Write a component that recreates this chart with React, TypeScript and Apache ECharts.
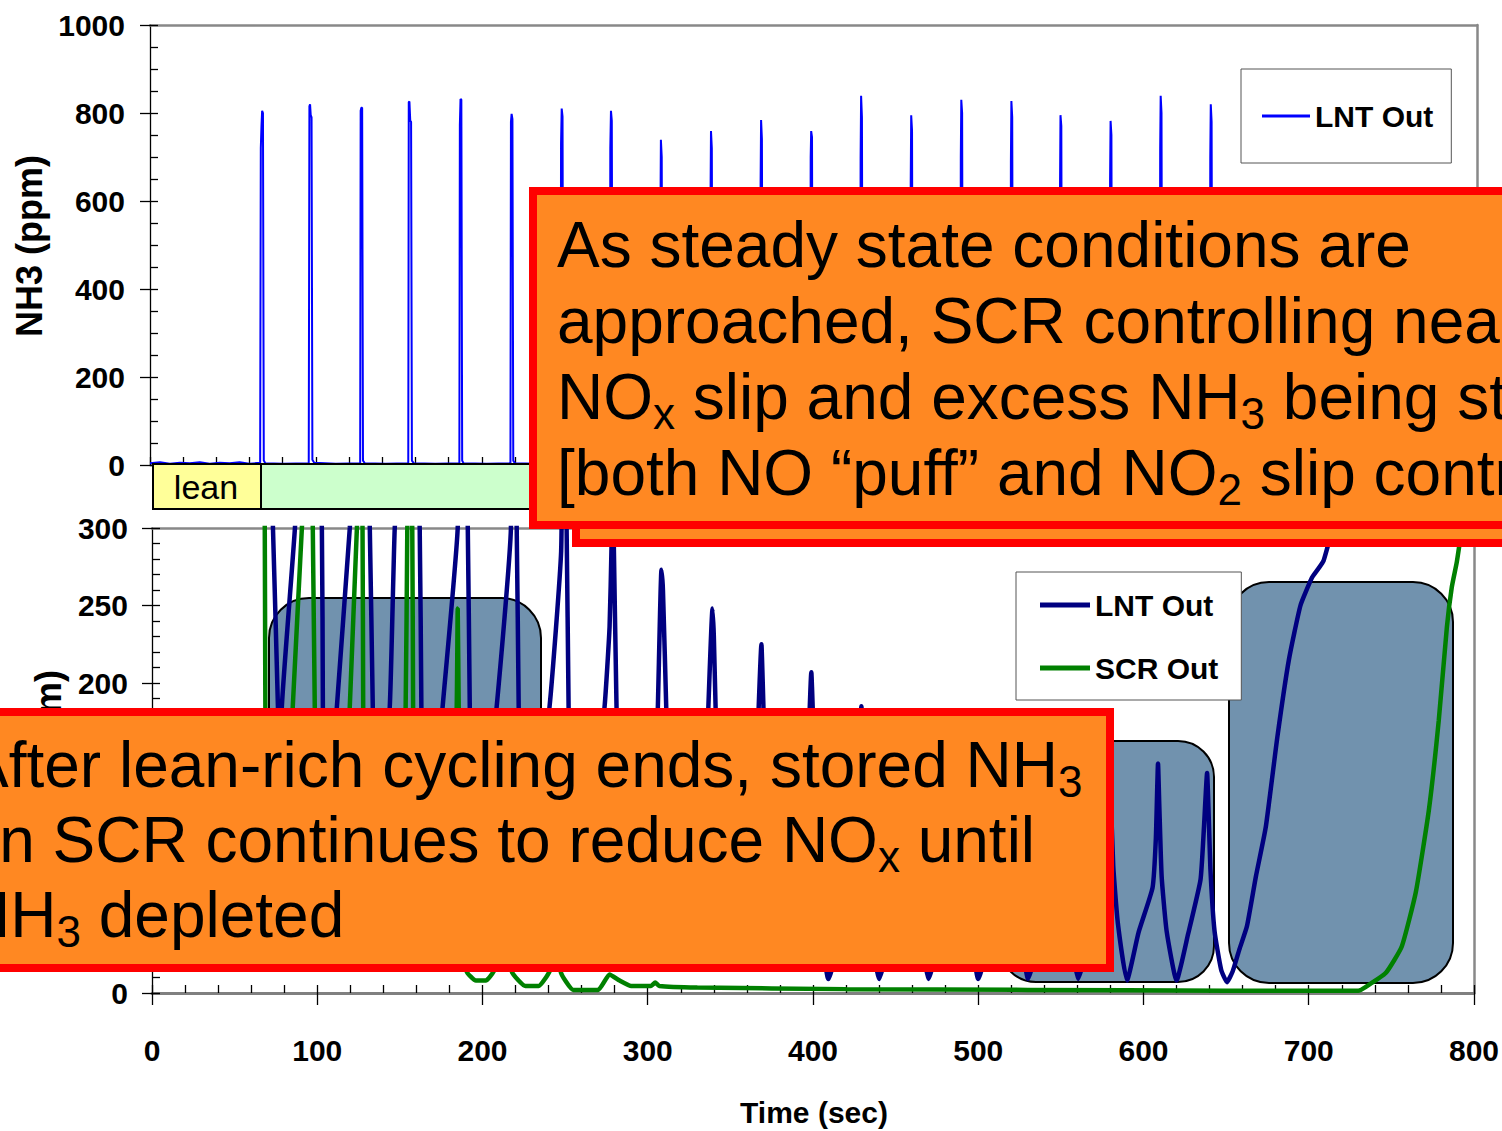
import React, { useEffect, useRef } from "react";
import * as echarts from "echarts";

const FONT = "'Liberation Sans', Arial, Helvetica, sans-serif";

// ---------- data (time in s, value in ppm) ----------
const nh3LntOut: number[][] = [
  [0, 4], [6, 6], [12, 3], [18, 5], [24, 4], [30, 6], [36, 3], [42, 5], [48, 4], [54, 6], [60, 3], [66.4, 5],
  [66.8, 720], [67.2, 770], [67.6, 805], [68.1, 800], [68.6, 10], [69.5, 4], [80, 3], [95.7, 4],
  [96.1, 815], [96.5, 820], [96.9, 795], [97.4, 790], [97.9, 12], [99, 5], [112, 3], [126.7, 4],
  [127.0, 805], [127.4, 812], [127.9, 812], [128.4, 10], [129.5, 4], [142, 3], [155.7, 4],
  [156.0, 825], [156.4, 826], [156.9, 782], [157.4, 780], [157.9, 10], [159, 4], [172, 3], [186.5, 4],
  [186.8, 772], [187.2, 832], [187.7, 830], [188.2, 10], [189, 4], [203, 3], [217.3, 4],
  [217.6, 780], [218.0, 798], [218.5, 786], [219.0, 10], [220, 4], [233, 3], [247.5, 4],
  [247.8, 730], [248.2, 810], [248.7, 792], [249.2, 10], [250.5, 3], [263, 3], [277.2, 3],
  [277.5, 720], [277.9, 805], [278.4, 782], [278.9, 8], [280, 3], [293, 3], [307.4, 4],
  [307.7, 560], [308.0, 739], [308.5, 700], [309.0, 8], [310, 3], [323, 3], [337.6, 4],
  [337.9, 600], [338.2, 759], [338.7, 720], [339.2, 8], [340.2, 3], [353, 3], [367.8, 4],
  [368.1, 640], [368.4, 784], [368.9, 740], [369.4, 8], [370.4, 3], [383, 3], [398.0, 4],
  [398.3, 700], [398.6, 759], [399.1, 745], [399.6, 8], [400.6, 3], [413, 3], [428.1, 4],
  [428.4, 700], [428.7, 839], [429.2, 790], [429.7, 8], [430.7, 3], [443, 3], [458.3, 4],
  [458.6, 640], [458.9, 795], [459.4, 760], [459.9, 8], [460.9, 3], [473, 3], [488.5, 4],
  [488.8, 700], [489.1, 830], [489.6, 800], [490.1, 8], [491.1, 3], [503, 3], [518.7, 4],
  [519.0, 690], [519.3, 827], [519.8, 790], [520.3, 8], [521.3, 3], [534, 3], [548.3, 4],
  [548.6, 620], [548.9, 795], [549.4, 770], [549.9, 8], [550.9, 3], [564, 3], [578.5, 4],
  [578.8, 650], [579.1, 782], [579.6, 750], [580.1, 8], [581.1, 3], [594, 3], [608.7, 4],
  [609.0, 720], [609.3, 839], [609.8, 800], [610.3, 8], [611.3, 3], [624, 3], [638.9, 4],
  [639.2, 700], [639.5, 820], [640.0, 780], [640.5, 8], [641.5, 3], [700, 2], [800, 2],
];

const noxLntOut: number[][] = [
  [0, 450], [30, 455], [60, 460], [66.5, 470], [67.3, 520], [68.5, 480], [73.2, 300], [76.2, 185],
  [77.4, 90], [78.6, 185], [86.5, 300], [90, 380], [95, 420],
  [95.8, 520], [97, 470], [102.8, 300], [103.4, 185], [104.6, 70], [111.9, 185], [119.7, 300], [124, 380], [126, 410],
  [126.8, 510], [128, 470], [131.8, 300], [133.6, 185], [135.4, 60], [143.9, 185], [146.9, 300], [152, 390], [155, 420],
  [155.8, 500], [157, 460], [162.0, 300], [163, 185], [164.5, 50], [175.9, 185], [185.0, 300],
  [186.5, 480], [188, 440], [191.1, 300], [192.3, 185], [194.1, 40], [208.6, 185], [217.2, 300],
  [217.6, 450], [218.5, 400], [220.7, 300], [221.9, 185], [223.7, 35], [240.6, 185], [247.6, 285],
  [248.6, 420], [249.5, 380], [250.9, 300], [252.1, 185], [254, 30],
  [262, 60], [273.9, 185], [276.9, 236], [278.1, 289], [278.7, 330], [279.3, 300], [281.1, 185], [284, 60], [289, 22],
  [296, 45], [303, 110], [305.9, 176], [308.3, 273], [309.2, 260], [311.4, 176], [314, 60], [319.5, 20],
  [327, 40], [334, 100], [336.2, 170], [339.2, 248], [340, 230], [341.6, 160], [344, 60], [349.5, 18],
  [357, 40], [364, 95], [366.3, 160], [368.8, 225], [369.6, 200], [371.2, 140], [374, 55], [379.5, 16],
  [387, 38], [394, 85], [396.6, 140], [399, 207], [399.8, 185], [401.5, 120], [404, 50], [409.3, 9],
  [417, 37], [424, 78], [427, 120], [429.3, 185], [430.2, 160], [431.8, 100], [434.5, 45], [440.1, 9],
  [447, 36], [454, 74], [457, 110], [459.5, 178], [460.4, 150], [462, 95], [465, 45], [469.8, 9],
  [477, 35], [484, 72], [487, 105], [489.7, 172], [490.6, 145], [492.2, 92], [495, 45], [500, 9],
  [507, 34], [514, 70], [517, 102], [520, 166], [520.9, 140], [522.5, 88], [525, 45], [530.2, 9],
  [537, 34], [544, 70], [547, 100], [549.6, 160], [550.5, 135], [552, 85], [555, 45], [560.4, 9],
  [567, 33], [574, 68], [577, 100], [579.2, 154], [580.1, 130], [581.7, 82], [584.5, 45], [590, 8],
  [597, 39], [605.5, 68], [607.5, 100], [608.8, 148], [609.6, 120], [611, 75], [614, 40], [620, 8],
  [627, 38], [634.5, 73], [636.5, 105], [638.5, 142], [639.3, 120], [640.5, 80], [643, 40], [647, 15], [650.5, 7],
  [654, 14], [658, 28], [662.6, 43], [668, 75], [674, 107], [681, 165], [688, 215], [695, 250], [702, 268],
  [706, 274], [709, 279], [712, 290], [716, 302], [725, 330], [800, 400],
];

const noxScrOut: number[][] = [
  [0, 420], [60, 430], [67, 440], [68.0, 380], [68.6, 185], [70, 60], [75, 20], [80, 60], [85.2, 185], [90.7, 300],
  [94, 380], [97, 330], [97.3, 300], [98.5, 185], [100, 50], [108, 20], [115, 80], [119.7, 185], [124, 300],
  [126, 340], [127.4, 300], [127.8, 185], [129, 50], [138, 18], [148, 60], [153.5, 185], [154.5, 300], [156, 330],
  [157.5, 300], [158, 185], [159.5, 50], [170, 17], [180, 40], [184.4, 185], [185, 248], [185.6, 185], [187, 60],
  [190.4, 14], [196, 8], [202, 8], [206.8, 14], [212, 30], [215.8, 130], [216.6, 60], [217.7, 14], [226, 4.5],
  [234, 4.5], [240.6, 14], [244, 30], [246.5, 110], [247, 50], [247.3, 14], [255, 2], [270, 2], [276.9, 12],
  [283, 8], [290, 4.5], [302, 4.5], [304.5, 6.7], [307, 4.5], [330, 3.5], [420, 2.5], [530, 2], [650, 1.5],
  [730, 1.5], [734.6, 4], [746.7, 13], [756.3, 30], [764.8, 65], [772.7, 118], [778.7, 176], [783.6, 236],
  [786.6, 262], [789.6, 278], [792, 295], [794, 310], [800, 360],
];

const topYMax = 1000;
const botYMax = 300;
const xMax = 800;
const hiddenBottomLabels = [50, 100, 150]; // covered by the annotation box in the reference

const box1Lines = [
  "{n|As steady state conditions are}",
  "{n|approached, SCR controlling near-zero}",
  "{n|NO}{s|x}{n| slip and excess NH}{s|3}{n| being stored}",
  "{n|[both NO \u201cpuff\u201d and NO}{s|2}{n| slip controlled]}",
];
const box2Lines = [
  "{n|After lean-rich cycling ends, stored NH}{s|3}",
  "{n|in SCR continues to reduce NO}{s|x}{n| until}",
  "{n|NH}{s|3}{n| depleted}",
];

const rich = {
  n: { fontSize: 64, lineHeight: 76, fontFamily: FONT, fill: "#000" },
  s: { fontSize: 44, lineHeight: 30, verticalAlign: "bottom", fontFamily: FONT, fill: "#000" },
};

const labelStyle = { fontFamily: FONT, fontWeight: "bold" as const, fontSize: 30, color: "#000" };

function borderAxis(gridIndex: number, position: string, max: number) {
  return {
    type: "value", gridIndex, position, min: 0, max,
    axisLine: { show: true, onZero: false, lineStyle: { color: "#888", width: 2.5 } },
    axisTick: { show: false }, axisLabel: { show: false }, splitLine: { show: false },
  };
}

function txt(x: number, y: number, text: string, extra: any = {}, z = 32) {
  return {
    type: "text", z, x, y,
    style: { text, rich, fontFamily: FONT, fontSize: 64, lineHeight: 76, fill: "#000",
      align: "left", verticalAlign: "top", textAlign: "left", textVerticalAlign: "top", ...extra },
  };
}

function buildOption() {
  const tickStyle = { color: "#000", width: 1.3 };
  return {
    animation: false,
    backgroundColor: "#fff",
    grid: [
      { left: 150, top: 25, width: 1327, height: 440, show: false },
      { left: 152, top: 528, width: 1323, height: 465, show: false },
    ],
    xAxis: [
      { type: "value", gridIndex: 0, position: "bottom", min: 0, max: xMax, interval: 20,
        axisLine: { show: true, onZero: false, lineStyle: { color: "#000", width: 1.3 } },
        axisTick: { show: true, inside: true, length: 8, lineStyle: tickStyle },
        axisLabel: { show: false }, splitLine: { show: false } },
      borderAxis(0, "top", xMax),
      { type: "value", gridIndex: 1, position: "bottom", min: 0, max: xMax, interval: 100,
        axisLine: { show: true, onZero: false, lineStyle: { color: "#808080", width: 3 } },
        axisTick: { show: true, inside: false, length: 12, lineStyle: tickStyle },
        axisLabel: { ...labelStyle, margin: 42 }, splitLine: { show: false } },
      { type: "value", gridIndex: 1, position: "bottom", min: 0, max: xMax, interval: 20,
        axisLine: { show: false, onZero: false },
        axisTick: { show: true, inside: true, length: 8, lineStyle: tickStyle },
        axisLabel: { show: false }, splitLine: { show: false } },
      borderAxis(1, "top", xMax),
    ],
    yAxis: [
      { type: "value", gridIndex: 0, position: "left", min: 0, max: topYMax, interval: 200,
        axisLine: { show: true, onZero: false, lineStyle: { color: "#000", width: 1.3 } },
        axisTick: { show: true, inside: false, length: 10, lineStyle: tickStyle },
        axisLabel: { ...labelStyle, margin: 25, formatter: (v: number) => String(v) }, splitLine: { show: false } },
      { type: "value", gridIndex: 0, position: "left", min: 0, max: topYMax, interval: 50,
        axisLine: { show: false, onZero: false },
        axisTick: { show: true, inside: true, length: 8, lineStyle: tickStyle },
        axisLabel: { show: false }, splitLine: { show: false } },
      borderAxis(0, "right", topYMax),
      { type: "value", gridIndex: 1, position: "left", min: 0, max: botYMax, interval: 50,
        axisLine: { show: true, onZero: false, lineStyle: { color: "#000", width: 1.3 } },
        axisTick: { show: true, inside: false, length: 10, lineStyle: tickStyle },
        axisLabel: { ...labelStyle, margin: 24,
          formatter: (v: number) => (hiddenBottomLabels.includes(v) ? "" : String(v)) },
        splitLine: { show: false } },
      { type: "value", gridIndex: 1, position: "left", min: 0, max: botYMax, interval: 10,
        axisLine: { show: false, onZero: false },
        axisTick: { show: true, inside: true, length: 8, lineStyle: tickStyle },
        axisLabel: { show: false }, splitLine: { show: false } },
      borderAxis(1, "right", botYMax),
    ],
    legend: [
      { left: 1241, top: 69, orient: "vertical", selectedMode: false,
        padding: [31, 18, 31, 21], itemWidth: 48, itemHeight: 3, icon: "rect",
        backgroundColor: "#fff", borderColor: "#555", borderWidth: 1,
        textStyle: { ...labelStyle, lineHeight: 32 },
        data: [{ name: "LNT Out", itemStyle: { color: "#0000FF" } }] },
      { left: 1016, top: 572, orient: "vertical", selectedMode: false,
        padding: [17, 23, 16, 24], itemWidth: 50, itemHeight: 5, itemGap: 31, icon: "rect",
        backgroundColor: "#fff", borderColor: "#555", borderWidth: 1,
        textStyle: { ...labelStyle, lineHeight: 32 },
        data: [
          { name: "LNT Out", itemStyle: { color: "#000080" } },
          { name: "SCR Out", itemStyle: { color: "#008000" } },
        ] },
    ],
    series: [
      { name: "LNT Out", type: "line", xAxisIndex: 0, yAxisIndex: 0, data: nh3LntOut,
        showSymbol: false, lineStyle: { color: "#0000FF", width: 2 }, itemStyle: { color: "#0000FF" } },
      { name: "LNT Out", type: "line", xAxisIndex: 2, yAxisIndex: 3, data: noxLntOut, smooth: 0.15,
        showSymbol: false, lineStyle: { color: "#000080", width: 4.5 }, itemStyle: { color: "#000080" } },
      { name: "SCR Out", type: "line", xAxisIndex: 2, yAxisIndex: 3, data: noxScrOut, smooth: 0.15,
        showSymbol: false, lineStyle: { color: "#008000", width: 4.5 }, itemStyle: { color: "#008000" } },
    ],
    graphic: [
      // slate rounded highlight boxes (behind the lines)
      { type: "rect", z: 1, shape: { x: 269, y: 598, width: 272, height: 362, r: 40 },
        style: { fill: "#7192AE", stroke: "#000", lineWidth: 2 } },
      { type: "rect", z: 1, shape: { x: 1000, y: 741, width: 214, height: 241, r: 36 },
        style: { fill: "#7192AE", stroke: "#000", lineWidth: 2 } },
      { type: "rect", z: 1, shape: { x: 1229, y: 582, width: 224, height: 401, r: 40 },
        style: { fill: "#7192AE", stroke: "#000", lineWidth: 2 } },
      // axis titles
      { type: "text", z: 5, x: 29.5, y: 246, rotation: Math.PI / 2,
        style: { text: "NH3 (ppm)", fontFamily: FONT, fontWeight: "bold", fontSize: 36, fill: "#000",
          align: "center", verticalAlign: "middle", textAlign: "center", textVerticalAlign: "middle" } },
      { type: "text", z: 5, x: 48.5, y: 670, rotation: Math.PI / 2,
        style: { text: "NOx (ppm)", fontFamily: FONT, fontWeight: "bold", fontSize: 36, fill: "#000",
          align: "right", verticalAlign: "middle", textAlign: "right", textVerticalAlign: "middle" } },
      { type: "text", z: 5, x: 814, y: 1112,
        style: { text: "Time (sec)", fontFamily: FONT, fontWeight: "bold", fontSize: 30, fill: "#000",
          align: "center", verticalAlign: "middle", textAlign: "center", textVerticalAlign: "middle" } },
      // lean / rich bar
      { type: "rect", z: 20, shape: { x: 261, y: 464, width: 640, height: 45 },
        style: { fill: "#CCFFCC", stroke: "#000", lineWidth: 2 } },
      { type: "rect", z: 21, shape: { x: 153, y: 464, width: 108, height: 45 },
        style: { fill: "#FFFF99", stroke: "#000", lineWidth: 2 } },
      { type: "text", z: 22, x: 206, y: 487,
        style: { text: "lean", fontFamily: FONT, fontSize: 34, fill: "#000",
          align: "center", verticalAlign: "middle", textAlign: "center", textVerticalAlign: "middle" } },
      // annotation box 1 (with offset copy behind)
      { type: "rect", z: 30, shape: { x: 576, y: 209, width: 1000, height: 334 },
        style: { fill: "#FF8822", stroke: "#FF0000", lineWidth: 8 } },
      { type: "rect", z: 31, shape: { x: 533, y: 191, width: 1000, height: 334 },
        style: { fill: "#FF8822", stroke: "#FF0000", lineWidth: 8 } },
      txt(557, 207, box1Lines.join("\n")),
      // annotation box 2
      { type: "rect", z: 30, shape: { x: -20, y: 712, width: 1130, height: 256 },
        style: { fill: "#FF8822", stroke: "#FF0000", lineWidth: 8 } },
      txt(-34, 727, box2Lines[0]),
      txt(-15, 802, box2Lines[1]),
      txt(-36, 877, box2Lines[2]),
    ],
  };
}

export default function App() {
  const ref = useRef<HTMLDivElement>(null);
  useEffect(() => {
    document.body.style.margin = "0";
    const chart = echarts.init(ref.current!, null, { renderer: "svg" });
    chart.setOption(buildOption() as any);
    return () => chart.dispose();
  }, []);
  return <div ref={ref} style={{ width: 1502, height: 1131, background: "#fff" }} />;
}
